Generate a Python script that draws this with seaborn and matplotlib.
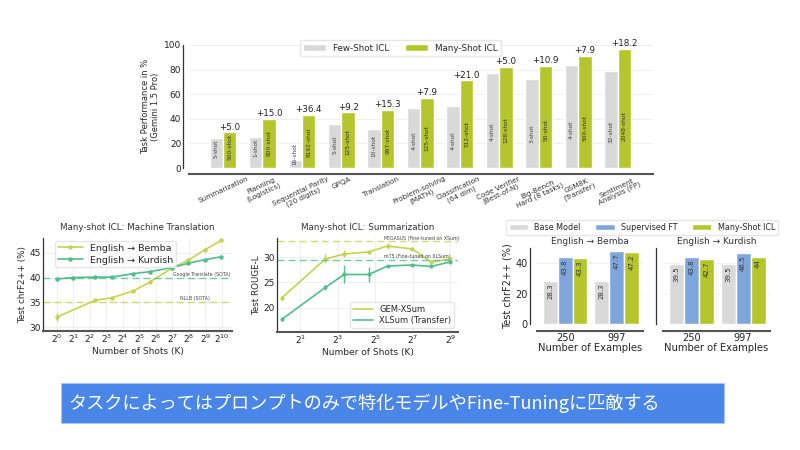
import matplotlib
matplotlib.use("Agg")
import matplotlib.pyplot as plt
from matplotlib.patches import Rectangle
from matplotlib.lines import Line2D
from matplotlib.ticker import NullLocator
import numpy as np
import pandas as pd
import seaborn as sns

# ---- top panel: few-shot vs many-shot ICL per task (Gemini 1.5 Pro)
tasks = ["Summarization", "Planning\n(Logistics)", "Sequential Parity\n(20 digits)", "GPQA",
         "Translation", "Problem-solving\n(MATH)", "Classification\n(64 dim)", "Code Verifier\n(Best-of-N)",
         "Big-Bench\nHard (8 tasks)", "GSM8K\n(Transfer)", "Sentiment\nAnalysis (FP)"]
few_shot = [24.0, 25.0, 6.5, 36.0, 32.0, 49.0, 50.2, 77.0, 72.1, 83.5, 78.8]
many_shot = [29.0, 40.0, 42.9, 45.2, 47.3, 56.9, 71.2, 82.0, 83.0, 91.4, 97.0]
few_shot_k = ["5-shot", "1-shot", "16-shot", "5-shot", "10-shot", "4-shot", "4-shot", "4-shot",
              "3-shot", "4-shot", "32-shot"]
many_shot_k = ["500-shot", "800-shot", "8192-shot", "125-shot", "997-shot", "125-shot", "512-shot",
               "128-shot", "50-shot", "500-shot", "2048-shot"]

# ---- machine translation (chrF2++)
mt_k_bemba = [1, 5, 10, 25, 50, 125, 250, 500, 997]
mt_bemba = [32.0, 35.4, 35.9, 37.3, 39.1, 41.9, 43.5, 45.6, 47.5]
mt_k_kurdish = [1, 2, 5, 10, 25, 50, 125, 250, 500, 997]
mt_kurdish = [39.7, 40.0, 40.1, 40.1, 40.8, 41.2, 42.0, 42.9, 43.6, 44.2]
google_sota = 40.0
nllb_sota = 35.0

# ---- summarization (ROUGE-L)
sum_k = [1, 5, 10, 25, 50, 125, 250, 500]
gem_xsum = [21.9, 29.7, 30.7, 31.1, 32.3, 31.7, 29.1, 29.7]
gem_err = [0.3, 0.9, 0.7, 0.4, 0.6, 0.3, 0.3, 0.3]
xlsum = [17.6, 24.0, 26.6, 26.6, 28.3, 28.5, 28.2, 29.1]
xlsum_err = [0.3, 0.5, 1.8, 1.5, 0.2, 0.2, 0.2, 0.3]
pegasus_ft = 33.2
mt5_ft = 29.5

# ---- many-shot ICL vs supervised fine-tuning
n_examples = ["250", "997"]
methods = ["Base Model", "Supervised FT", "Many-Shot ICL"]
bemba_scores = {"Base Model": [28.3, 28.3], "Supervised FT": [43.8, 47.7], "Many-Shot ICL": [43.3, 47.2]}
kurdish_scores = {"Base Model": [39.5, 39.5], "Supervised FT": [43.8, 46.5], "Many-Shot ICL": [42.7, 44.0]}

banner = "タスクによってはプロンプトのみで特化モデルやFine-Tuningに匹敵する"

GRAY = "#d9d9d9"
GREEN = "#b5c62c"
BLUE = "#7fa6dc"
YG = "#c3d450"
TEAL = "#50be8c"

sns.set_theme(style="whitegrid")
plt.rcParams["font.family"] = ["DejaVu Sans", "Noto Sans CJK JP"]
plt.rcParams["grid.color"] = "#ececec"
plt.rcParams["grid.linewidth"] = 0.6

W, H = 800, 450
fig = plt.figure(figsize=(8, 4.5), dpi=100, facecolor="white")


def box(x0, y0, x1, y1):
    return [x0 / W, 1 - y1 / H, (x1 - x0) / W, (y1 - y0) / H]


def style_spines(ax, offset=0):
    # despine first: moving a spine resets the tick labels
    sns.despine(ax=ax, offset=offset)
    ax.spines["left"].set_color("#333333")
    ax.spines["left"].set_linewidth(0.9)
    ax.spines["bottom"].set_color("#555555")
    ax.spines["bottom"].set_linewidth(1.5)
    ax.tick_params(length=0, pad=1.5, colors="#222222")


# ================= top bar chart
ax = fig.add_axes(box(189, 45, 653, 168))
top_df = pd.DataFrame({
    "task": tasks * 2,
    "setting": ["Few-Shot ICL"] * len(tasks) + ["Many-Shot ICL"] * len(tasks),
    "score": few_shot + many_shot,
})
sns.barplot(data=top_df, x="task", y="score", hue="setting", palette=[GRAY, GREEN],
            width=0.68, gap=0, saturation=1, ax=ax)
style_spines(ax, offset=4)
ax.set_ylim(0, 100)
ax.set_xlim(-0.86, 10.89)
ax.set_yticks([0, 20, 40, 60, 80, 100])
ax.tick_params(axis="y", labelsize=6.5)
ax.set_xticks(range(len(tasks)))
ax.set_xticklabels(tasks, rotation=25, ha="center", fontsize=5.2, color="#333333", linespacing=1.0)
ax.set_xlabel("")
ax.set_ylabel("Task Performance in %\n(Gemini 1.5 Pro)", fontsize=6, labelpad=3, linespacing=1.1)

for bar, lab in zip(ax.containers[0], few_shot_k):
    xc = bar.get_x() + bar.get_width() / 2
    ax.text(xc, 0.25 * bar.get_height() + 10, lab, rotation=90, ha="center", va="center",
            fontsize=4.2, color="#444444")
for bar, lab, f in zip(ax.containers[1], many_shot_k, few_shot):
    xc = bar.get_x() + bar.get_width() / 2
    h = bar.get_height()
    ax.text(xc, 0.25 * h + 10, lab, rotation=90, ha="center", va="center", fontsize=4.2, color="#333333")
    ax.text(xc, h + 0.6, f"+{h - f:.1f}", ha="center", va="bottom", fontsize=6.3, color="#222222")

handles, labels = ax.get_legend_handles_labels()
ax.legend(handles, labels, loc="upper center", bbox_to_anchor=(0.455, 1.075), ncol=2, fontsize=6.3,
          frameon=True, handlelength=2.6, handleheight=0.9, columnspacing=1.8, borderpad=0.4,
          edgecolor="#e0e0e0", fancybox=True)

# ================= machine translation
ax2 = fig.add_axes(box(43, 238, 232, 331))
mt_df = pd.DataFrame({
    "shots": mt_k_bemba + mt_k_kurdish,
    "score": mt_bemba + mt_kurdish,
    "pair": ["English → Bemba"] * len(mt_k_bemba) + ["English → Kurdish"] * len(mt_k_kurdish),
})
sns.lineplot(data=mt_df, x="shots", y="score", hue="pair", palette=[YG, TEAL], marker="o",
             markersize=3.2, markeredgewidth=0, linewidth=1.2, ax=ax2)
ax2.errorbar(mt_k_bemba[:1], mt_bemba[:1], yerr=[0.8], color=YG, linewidth=1, capsize=0)
ax2.axhline(google_sota, color=TEAL, linestyle="--", linewidth=1.0, dashes=(5, 3), alpha=0.8)
ax2.axhline(nllb_sota, color=YG, linestyle="--", linewidth=1.0, dashes=(5, 3), alpha=0.8)
style_spines(ax2)
ax2.set_xscale("log", base=2)
ax2.set_xlim(0.56, 1575)
ax2.set_ylim(29.2, 48)
ax2.text(130, google_sota + 0.4, "Google Translate (SOTA)", fontsize=3.4, color="#444444")
ax2.text(180, nllb_sota + 0.4, "NLLB (SOTA)", fontsize=3.4, color="#444444")
ax2.set_xticks([2 ** i for i in range(11)])
ax2.set_xticklabels([f"$2^{{{i}}}$" for i in range(11)], fontsize=6.5)
ax2.xaxis.set_minor_locator(NullLocator())
ax2.set_yticks([30, 35, 40, 45])
ax2.tick_params(axis="y", labelsize=6.5)
ax2.set_title("Many-shot ICL: Machine Translation", fontsize=6.3, pad=6, color="#333333")
ax2.set_xlabel("Number of Shots (K)", fontsize=6.5, labelpad=1)
ax2.set_ylabel("Test chrF2++ (%)", fontsize=6.3, labelpad=2)
ax2.legend(loc="upper left", bbox_to_anchor=(0.04, 1.02), fontsize=6.8, frameon=True,
           handlelength=2.6, borderpad=0.3, labelspacing=0.3, edgecolor="#e0e0e0")

# ================= summarization
ax3 = fig.add_axes(box(277, 238, 458, 332))
sum_df = pd.DataFrame({
    "shots": sum_k * 2,
    "score": gem_xsum + xlsum,
    "data": ["GEM-XSum"] * len(sum_k) + ["XLSum (Transfer)"] * len(sum_k),
})
sns.lineplot(data=sum_df, x="shots", y="score", hue="data", palette=[YG, TEAL], marker="o",
             markersize=3, markeredgewidth=0, linewidth=1.2, legend=False, ax=ax3)
ax3.errorbar(sum_k, gem_xsum, yerr=gem_err, fmt="none", ecolor=YG, elinewidth=1)
ax3.errorbar(sum_k, xlsum, yerr=xlsum_err, fmt="none", ecolor=TEAL, elinewidth=1)
ax3.axhline(pegasus_ft, color=YG, linestyle="--", linewidth=1.0, dashes=(5, 3), alpha=0.8)
ax3.axhline(mt5_ft, color=TEAL, linestyle="--", linewidth=1.0, dashes=(5, 3), alpha=0.8)
style_spines(ax3)
ax3.set_xscale("log", base=2)
ax3.set_xlim(0.84, 676)
ax3.set_ylim(15.1, 33.9)
ax3.text(44, pegasus_ft + 0.35, "PEGASUS (Fine-tuned on XSum)", fontsize=3.4, color="#444444")
ax3.text(44, mt5_ft + 0.35, "mT5 (Fine-tuned on XLSum)", fontsize=3.4, color="#444444")
ax3.set_xticks([2 ** i for i in range(1, 10, 2)])
ax3.set_xticklabels([f"$2^{{{i}}}$" for i in range(1, 10, 2)], fontsize=6.5)
ax3.xaxis.set_minor_locator(NullLocator())
ax3.set_yticks([20, 25, 30])
ax3.tick_params(axis="y", labelsize=6.5)
ax3.set_title("Many-shot ICL: Summarization", fontsize=6.3, pad=6, color="#333333")
ax3.set_xlabel("Number of Shots (K)", fontsize=6.5, labelpad=1)
ax3.set_ylabel("Test ROUGE-L", fontsize=6.3, labelpad=2)
ax3.legend([Line2D([], [], color=YG, lw=1.2), Line2D([], [], color=TEAL, lw=1.2)],
           ["GEM-XSum", "XLSum (Transfer)"], loc="lower right", fontsize=6, frameon=True,
           handlelength=2.4, borderpad=0.3, labelspacing=0.3, edgecolor="#e0e0e0")

# ================= supervised FT vs many-shot ICL
pal = [GRAY, BLUE, GREEN]
panels = [("English → Bemba", bemba_scores, box(537, 248, 643, 324)),
          ("English → Kurdish", kurdish_scores, box(663, 248, 770, 324))]
for i, (title, scores, rect) in enumerate(panels):
    axb = fig.add_axes(rect)
    df = pd.DataFrame({
        "n": n_examples * len(methods),
        "method": [m for m in methods for _ in n_examples],
        "score": [v for m in methods for v in scores[m]],
    })
    sns.barplot(data=df, x="n", y="score", hue="method", palette=pal, width=0.87, gap=0,
                saturation=1, legend=(i == 0), ax=axb)
    style_spines(axb, offset=5)
    axb.set_ylim(0, 50)
    axb.set_xlim(-0.55, 1.52)
    axb.set_yticks([0, 20, 40])
    axb.tick_params(axis="y", labelsize=7)
    axb.tick_params(axis="x", labelsize=7)
    axb.grid(axis="x", visible=False)
    axb.set_title(title, fontsize=6.5, pad=3, color="#333333")
    axb.set_xlabel("Number of Examples", fontsize=7.2, labelpad=0)
    for cont in axb.containers:
        for bar in cont:
            h = bar.get_height()
            axb.text(bar.get_x() + bar.get_width() / 2, h - 1.5, f"{h:g}", rotation=90,
                     ha="center", va="top", fontsize=5, color="#333333")
    if i == 0:
        axb.set_ylabel("Test chrF2++ (%)", fontsize=7, labelpad=2)
        h_, l_ = axb.get_legend_handles_labels()
        axb.get_legend().remove()
        fig.legend(h_, l_, loc="upper center", bbox_to_anchor=(642 / W, 1 - 216 / H), ncol=3,
                   fontsize=5.8, frameon=True, handlelength=2.4, handleheight=0.9,
                   columnspacing=1.8, borderpad=0.35, edgecolor="#e0e0e0")
    else:
        axb.set_ylabel("")
        axb.set_yticklabels([])

# ================= banner
fig.add_artist(Rectangle((61 / W, 1 - 423 / H), 663 / W, 40 / H, transform=fig.transFigure,
                         facecolor="#4a86e8", edgecolor="#a9c5f2", linewidth=0.8))
fig.text(68 / W, 1 - 403 / H, banner, color="white", fontsize=13.1, va="center", ha="left",
         family=["Noto Sans CJK JP", "DejaVu Sans"])

fig.savefig("out.png", dpi=100, facecolor="white")
